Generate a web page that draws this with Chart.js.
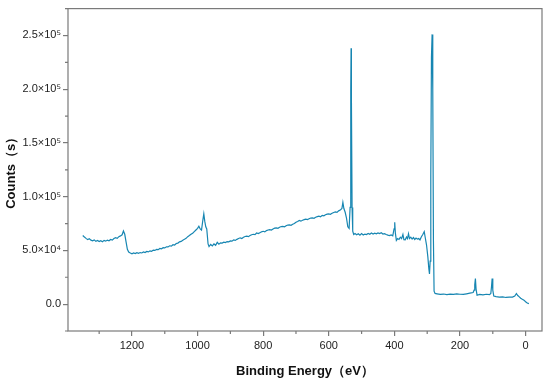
<!DOCTYPE html>
<html lang="en">

<head>
    <meta charset="UTF-8">
    <title>XPS survey</title>
    <script src="https://cdn.jsdelivr.net/npm/chart.js"></script>
    <style>
        html, body { margin: 0; padding: 0; background: #fff; }
        #wrap { width: 550px; height: 379px; }
    </style>
</head>

<body>
    <div id="wrap"><canvas id="chartCanvas" width="550" height="379"></canvas></div>

    <script>
        // binding energy (eV) and counts
        const bindingEnergy = [
            1350, 1345, 1340, 1335, 1330, 1325, 1320, 1315, 1310, 1305, 1300, 1295, 1290, 1285, 1280, 1275, 1270, 1265, 1260, 1255,
            1250, 1245, 1240, 1235, 1230, 1226, 1222, 1218, 1214, 1210, 1205, 1200, 1195, 1190, 1185, 1180, 1175, 1170, 1165, 1160,
            1155, 1150, 1145, 1140, 1135, 1130, 1125, 1120, 1115, 1110, 1105, 1100, 1095, 1090, 1085, 1080, 1075, 1070, 1065, 1060,
            1055, 1050, 1045, 1040, 1035, 1030, 1025, 1020, 1015, 1010, 1005, 1000, 996, 992, 988, 984, 981, 978, 975, 972,
            968, 965, 960, 955, 950, 945, 940, 935, 930, 925, 920, 915, 910, 905, 900, 895, 890, 885, 880, 875,
            870, 865, 860, 855, 850, 845, 840, 835, 830, 825, 820, 815, 810, 805, 800, 795, 790, 785, 780, 775,
            770, 765, 760, 755, 750, 745, 740, 735, 730, 725, 720, 715, 710, 705, 700, 695, 690, 685, 680, 675,
            670, 665, 660, 655, 650, 645, 640, 635, 630, 625, 620, 615, 610, 605, 600, 595, 590, 585, 580, 575,
            570, 565, 560, 557, 554, 550, 546, 542, 538, 535, 533, 532, 531,
            529, 527, 524, 520, 515, 510, 505, 500, 495, 490, 485, 480, 475, 470, 465, 460, 455, 450, 445, 440,
            435, 430, 425, 420, 415, 410, 405, 401, 399, 397, 394, 390, 386, 382, 378, 374, 371, 367, 363, 360,
            357, 354, 350, 346, 342, 338, 334, 330, 326, 322, 318, 313, 309, 306, 302, 298, 295, 293, 291, 289,
            287, 285, 283, 281, 279, 276, 270, 260, 250, 240, 230, 220, 210, 200, 190, 180, 170, 160, 157, 155,
            153, 151, 148, 140, 130, 120, 110, 106, 104, 102, 100, 97, 90, 80, 70, 60, 50, 40, 33, 28,
            24, 20, 15, 10, 5, 0, -5, -10
        ];
        const counts = [
            63900, 62500, 61200, 60000, 60800, 59500, 59000, 59800, 58400, 59200, 58200, 59000, 58000, 59300, 58600, 59600, 59000, 60200, 59600, 61000,
            61800, 61200, 62800, 63500, 64500, 68000, 65000, 58000, 51000, 48500, 47500, 46800, 47600, 47000, 47800, 47300, 48000, 47600, 48500, 48000,
            49000, 48600, 49600, 49200, 50300, 50000, 51000, 50700, 51800, 51500, 52500, 52300, 53300, 53200, 54300, 54000, 55300, 55000, 56400, 56800,
            58000, 58400, 59500, 60300, 61200, 62800, 63800, 65000, 66000, 67500, 69000, 70500, 72500, 70000, 69000, 78000, 84000, 77000, 72000, 70000,
            56000, 53500, 55500, 54200, 56000, 54800, 57500, 55800, 57000, 56800, 57600, 57300, 58200, 58000, 58800, 58600, 59800, 59300, 60300, 61000,
            61700, 61100, 62200, 62900, 63300, 62800, 63800, 64600, 65000, 64700, 66200, 65600, 66500, 67300, 67800, 67200, 68400, 69000, 69300, 68900,
            70000, 70700, 71000, 70600, 71600, 72200, 72300, 71900, 72900, 73600, 73800, 73300, 74300, 75000, 76200, 76900, 77800, 77200, 78000, 78600,
            79000, 78700, 79400, 80100, 80300, 79900, 80800, 81400, 81800, 81300, 82600, 82200, 83200, 83700, 84000, 83600, 84500, 85300, 85800, 85400,
            86800, 87500, 89000, 94700, 89000, 85500, 80000, 72000, 70500, 90000, 200000, 238000, 190000,
            90000, 68000, 64800, 65800, 64600, 65500, 64200, 65600, 64400, 65200, 64700, 65800, 65000, 66200, 65300, 66000, 65400, 66300, 65600, 66400,
            65200, 65600, 64800, 64200, 63800, 64400, 63600, 70000, 76200, 66000, 59300, 61000, 60200, 62300, 61000, 64800, 60000, 59900, 62500, 61000,
            65500, 61000, 62300, 60500, 62000, 60200, 61500, 60500, 61000, 59800, 62500, 65000, 67500, 62000, 55000, 44000, 33000, 28000, 40000, 120000,
            230000, 251000, 200000, 60000, 12000, 10000, 9600, 9000, 9400, 8800, 9300, 9000, 9500, 9200, 9000, 9600, 10200, 10800, 13000, 18000,
            23800, 14000, 8300, 9000, 8600, 9200, 8800, 10000, 16000, 23800, 13000, 7500, 7000, 6500, 6800, 6200, 6500, 6600, 7500, 9900,
            8000, 7000, 5500, 4500, 3700, 2200, 1000, 500
        ];

        const xTicks = [0, 200, 400, 600, 800, 1000, 1200];
        const xMinor = [100, 300, 500, 700, 900, 1100, 1300];
        const yTicks = [0, 50000, 100000, 150000, 200000, 250000];
        const yTickLabels = ["0.0", "5.0×10⁴", "1.0×10⁵", "1.5×10⁵", "2.0×10⁵", "2.5×10⁵"];
        const yMinor = [-25000, 25000, 75000, 125000, 175000, 225000, 275000];

        const axisColor = "#7a7a7a";

        // box around the plot + short minor ticks
        const framePlugin = {
            id: "frame",
            afterDraw(chart) {
                const { ctx, chartArea: a, scales } = chart;
                ctx.save();
                ctx.strokeStyle = axisColor;
                ctx.lineWidth = 1.2;
                ctx.strokeRect(a.left, a.top, a.right - a.left, a.bottom - a.top);
                ctx.beginPath();
                xMinor.forEach(v => {
                    const px = scales.x.getPixelForValue(v);
                    ctx.moveTo(px, a.bottom);
                    ctx.lineTo(px, a.bottom + 3);
                });
                yMinor.forEach(v => {
                    const py = scales.y.getPixelForValue(v);
                    if (py < a.top - 0.5 || py > a.bottom + 0.5) return;
                    ctx.moveTo(a.left, py);
                    ctx.lineTo(a.left - 3, py);
                });
                ctx.stroke();
                ctx.restore();
            }
        };

        const ctx = document.getElementById("chartCanvas").getContext("2d");
        new Chart(ctx, {
            type: "line",
            data: {
                datasets: [{
                    data: bindingEnergy.map((e, i) => ({ x: e, y: counts[i] })),
                    borderColor: "#1786b2",
                    borderWidth: 1.2,
                    pointRadius: 0,
                    tension: 0,
                    fill: false
                }]
            },
            options: {
                responsive: false,
                animation: false,
                devicePixelRatio: 1,
                layout: { padding: { top: 8, right: 8, left: 0, bottom: 0 } },
                plugins: { legend: { display: false }, tooltip: { enabled: false } },
                scales: {
                    x: {
                        type: "linear",
                        reverse: true,
                        min: -50,
                        max: 1395,
                        afterBuildTicks: s => { s.ticks = xTicks.map(v => ({ value: v })); },
                        afterFit: s => { s.height = 48; },
                        border: { display: false },
                        grid: { drawOnChartArea: false, drawTicks: true, tickLength: 5, color: axisColor, lineWidth: 1.2 },
                        ticks: {
                            padding: 3,
                            color: "#222",
                            font: { family: "Liberation Sans, Arial, sans-serif", size: 11 },
                            maxRotation: 0,
                            callback: v => String(v)
                        },
                        title: {
                            display: true,
                            text: "Binding Energy（eV）",
                            color: "#111",
                            padding: { top: 6, bottom: 0 },
                            font: { family: "Liberation Sans, Arial, sans-serif", size: 13, weight: "bold" }
                        }
                    },
                    y: {
                        type: "linear",
                        min: -25000,
                        max: 275000,
                        afterBuildTicks: s => { s.ticks = yTicks.map(v => ({ value: v })); },
                        afterFit: s => { s.width = 68; },
                        border: { display: false },
                        grid: { drawOnChartArea: false, drawTicks: true, tickLength: 5, color: axisColor, lineWidth: 1.2 },
                        ticks: {
                            padding: 2,
                            color: "#222",
                            font: { family: "Liberation Sans, Arial, sans-serif", size: 11 },
                            callback: v => {
                                const i = yTicks.indexOf(v);
                                return i >= 0 ? yTickLabels[i] : "";
                            }
                        },
                        title: {
                            display: true,
                            text: "Counts（s）",
                            color: "#111",
                            padding: { top: 4, bottom: 0 },
                            font: { family: "Liberation Sans, Arial, sans-serif", size: 13, weight: "bold" }
                        }
                    }
                }
            },
            plugins: [framePlugin]
        });
    </script>
</body>

</html>
